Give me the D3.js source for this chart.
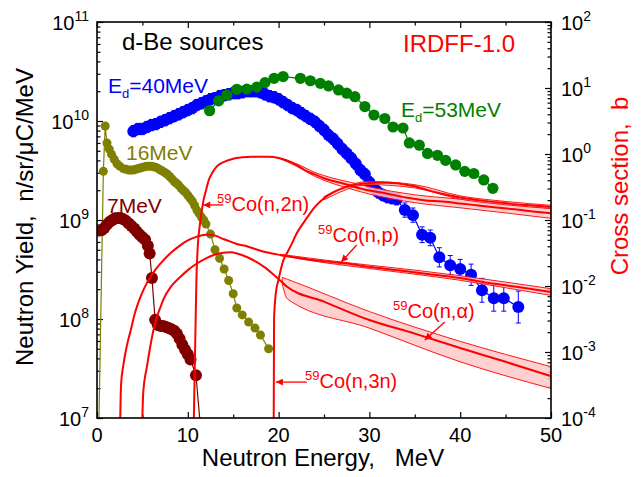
<!DOCTYPE html>
<html><head><meta charset="utf-8">
<script src="https://cdn.jsdelivr.net/npm/d3@7"></script>
<style>body{margin:0;background:#fff} svg{display:block} text{font-family:"Liberation Sans",Arial,Helvetica,sans-serif}</style>
</head><body><svg id="c" width="642" height="477"></svg>
<script>
// ---------- DATA ----------
// E_d = 40 MeV (blue)
const blueE = [4.0,4.5,5.0,5.5,6.0,6.5,7.0,7.5,8.0,8.5,9.0,9.5,10.0,10.5,11.0,11.5,12.0,12.5,13.0,13.5,14.0,14.5,15.0,15.5,16.0,16.5,17.0,17.5,18.0,18.5,19.0,19.5,20.0,20.5,21.0,21.5,22.0,22.5,23.0,23.5,24.0,24.5,25.0,25.5,26.0,26.5,27.0,27.5,28.0,28.5,29.0,29.5,30.0,30.5,31.0,31.5,32.0,32.5,33.0,33.9,34.8,35.8,36.7,37.7,38.9,40.0,41.2,42.4,43.7,44.8,46.4];
const blueY = [7.9e9,8.3e9,8.3e9,8.7e9,9.1e9,9.3e9,9.8e9,1.02e10,1.07e10,1.12e10,
  1.17e10,1.23e10,1.29e10,1.35e10,1.45e10,1.51e10,1.58e10,1.66e10,1.70e10,1.78e10,
  1.82e10,1.86e10,1.91e10,1.91e10,1.95e10,2.0e10,2.0e10,2.0e10,1.95e10,1.86e10,
  1.78e10,1.74e10,1.66e10,1.55e10,1.45e10,1.35e10,1.29e10,1.20e10,1.12e10,1.05e10,
  9.8e9,8.9e9,8.1e9,7.2e9,6.6e9,5.9e9,5.2e9,4.7e9,4.2e9,3.7e9,
  3.2e9,2.9e9,2.4e9,2.1e9,1.9e9,1.78e9,1.70e9,1.66e9,1.62e9,
  1.26e9,1.12e9,7.1e8,6.6e8,4.2e8,3.5e8,3.2e8,2.8e8,1.95e8,1.62e8,1.62e8,1.32e8];
const blueErr = [0.14,0.14,0.14,0.14,0.14,0.14,0.14,0.14,0.14,0.14,
  0.14,0.14,0.14,0.14,0.14,0.14,0.14,0.14,0.14,0.14,
  0.14,0.14,0.14,0.14,0.14,0.14,0.14,0.14,0.14,0.14,
  0.14,0.14,0.14,0.14,0.14,0.14,0.14,0.14,0.14,0.14,
  0.14,0.14,0.14,0.14,0.14,0.14,0.14,0.14,0.14,0.14,
  0.14,0.14,0.14,0.14,0.14,0.14,0.14,0.14,0.14,
  0.18,0.18,0.2,0.2,0.25,0.25,0.25,0.28,0.32,0.35,0.35,0.45];
// E_d = 53 MeV (green)
const greenE = [12.4,13.4,14.3,15.4,16.5,17.6,18.5,19.5,20.5,22.4,23.5,24.6,25.5,26.6,27.5,28.4,29.5,30.5,31.7,32.6,33.7,34.4,35.5,36.4,37.5,38.4,39.5,40.5,41.5,42.6,43.6];
const greenY = [1.27e10,1.60e10,1.83e10,2.09e10,2.1e10,2.2e10,2.44e10,2.70e10,2.81e10,2.70e10,2.55e10,2.40e10,2.26e10,2.06e10,1.91e10,1.76e10,1.40e10,1.15e10,1.06e10,8.7e9,8.5e9,6.0e9,5.7e9,4.7e9,4.5e9,4.0e9,3.6e9,3.1e9,2.95e9,2.54e9,2.09e9];
// E_d = 16 MeV (olive)
const oliveE = [0.2,0.7,0.9,1.1,1.35,1.6,1.9,2.2,2.5,2.9,3.2,3.5,3.75,4.0,4.25,4.5,4.75,5.0,5.25,5.5,5.75,6.0,6.25,6.5,6.75,7.0,7.25,7.5,7.75,8.0,8.25,8.5,8.75,9.0,9.25,9.5,9.75,10.0,10.25,10.5,10.75,11.0,11.25,11.5,11.75,12.0,12.5,13.0,13.5,14.0,14.5,15.0,15.4,16.0,16.7,17.4,18.0,18.9];
const oliveY = [8e6,3.1e9,8.9e9,6.0e9,5.2e9,4.6e9,4.1e9,3.7e9,3.5e9,3.3e9,3.25e9,3.2e9,3.2e9,3.2e9,3.25e9,3.3e9,3.35e9,3.4e9,3.45e9,3.5e9,3.5e9,3.5e9,3.45e9,3.4e9,3.3e9,3.2e9,3.1e9,3.0e9,2.9e9,2.75e9,2.6e9,2.45e9,2.35e9,2.24e9,2.1e9,2.0e9,1.9e9,1.78e9,1.66e9,1.55e9,1.4e9,1.26e9,1.16e9,1.07e9,1.0e9,9.1e8,7.2e8,5.0e8,4.1e8,3.2e8,2.45e8,1.8e8,1.29e8,1.1e8,9.3e7,8.1e7,6.9e7,5.0e7];
// E_d = 7 MeV (dark red)
const darkE = [0.5,0.8,1.1,1.4,1.7,2.0,2.3,2.6,2.9,3.2,3.5,3.8,4.1,4.4,4.7,5.0,5.3,5.6,5.8,6.05,6.4,6.7,7.0,7.3,7.6,7.9,8.2,8.5,8.8,9.1,9.4,9.7,10.0,10.3,10.9,11.4];
const darkY = [7.9e8,8.3e8,9.0e8,9.6e8,1.0e9,1.04e9,1.05e9,1.05e9,1.02e9,9.8e8,9.2e8,8.7e8,8.2e8,7.6e8,7.1e8,6.7e8,6.3e8,5.5e8,4.6e8,2.6e8,9.8e7,8.7e7,8.5e7,8.5e7,8.3e7,8.1e7,7.9e7,7.6e7,7.1e7,6.3e7,5.5e7,4.9e7,4.4e7,3.9e7,2.7e7,8e6];

// IRDFF-1.0 cross sections (barn)
const n2nE = [10.6,10.8,10.95,11.1,11.35,11.7,12.0,12.3,12.7,13.2,14.0,15.0,16.0,17.0,18.0,19.0,20.0,21.0,22.0,23.0,24.0,25.0,26.0,27.0,28.0,29.0,30.0,32.0,34.0,36.0,38.0,40.0,42.0,44.0,46.0,48.0,50.0];
const n2nS = [3e-5,1e-3,0.0126,0.040,0.089,0.19,0.28,0.40,0.52,0.65,0.76,0.85,0.89,0.91,0.91,0.91,0.87,0.79,0.68,0.56,0.49,0.43,0.39,0.36,0.33,0.30,0.28,0.25,0.22,0.20,0.19,0.178,0.166,0.155,0.145,0.135,0.126];
const n2nBandE = [20,22,24,26,28,30,35,40,45,50];
const n2nBandHi = [0.87,0.71,0.525,0.43,0.37,0.318,0.241,0.207,0.176,0.150];
const n2nBandLo = [0.87,0.65,0.457,0.356,0.294,0.247,0.183,0.153,0.128,0.106];

const npE = [2.5,2.65,2.9,3.3,3.7,4.2,4.8,5.4,5.9,6.5,7.3,8.2,9.2,10.0,11.0,12.0,12.5,13.0,14.0,14.7,15.5,16.5,17.5,18.4,19.3,20.2,22,24,26,28,30,33,36,40,43,46,50];
const npS = [3e-5,3.2e-4,6.3e-4,1.26e-3,2.1e-3,4.0e-3,6.9e-3,0.0105,0.0138,0.0182,0.0245,0.0324,0.0417,0.049,0.056,0.060,0.060,0.058,0.051,0.047,0.043,0.040,0.036,0.033,0.031,0.0295,0.0269,0.0245,0.0229,0.0214,0.0195,0.0174,0.0155,0.0132,0.0112,0.0098,0.0081];
const npBandE = [20.2,25,30,35,40,45,50];
const npBandHi = [0.0302,0.0248,0.0207,0.0174,0.0143,0.01146,0.0091];
const npBandLo = [0.0288,0.0226,0.0184,0.0151,0.0122,0.0094,0.0072];

const naE = [4.9,5.1,5.5,6.2,7.3,8.2,9.2,10.0,11.0,12.0,12.85,13.7,14.7,15.5,16.5,17.5,18.4,19.3,20.3,20.9,25,30,35,40,45,50];
const naS = [3e-5,2.5e-4,6.0e-4,2.1e-3,6.2e-3,0.010,0.0138,0.0174,0.0219,0.0263,0.0295,0.0316,0.0324,0.0309,0.0275,0.0234,0.0195,0.0155,0.0117,0.0098,5.8e-3,3.05e-3,1.9e-3,1.15e-3,7.1e-4,4.3e-4];
const naBandE = [20.4,21,30,40,50];
const naBandHi = [0.0135,0.0126,4.1e-3,1.45e-3,6.0e-4];
const naBandLo = [0.0107,6.3e-3,2.3e-3,7.1e-4,2.8e-4];

const n3nE = [19.45,19.5,19.7,20.0,20.5,21.0,21.5,22.0,23.0,24.0,25.0,26.0,27.0,28.0,29.0,30.0,31.0,32.0,33.0,34.0,35.0,36.0,37.0,38.0,39.0,40.0,42.0,44.0,46.0,48.0,50.0];
const n3nS = [3e-5,3.2e-3,7.9e-3,0.0126,0.024,0.033,0.045,0.063,0.102,0.158,0.214,0.263,0.302,0.331,0.351,0.363,0.367,0.367,0.359,0.343,0.324,0.295,0.269,0.251,0.234,0.219,0.200,0.186,0.174,0.166,0.158];
const n3nBandE = [25,30,35,40,45,50];
const n3nBandHi = [0.227,0.384,0.343,0.232,0.191,0.167];
const n3nBandLo = [0.202,0.343,0.306,0.207,0.170,0.149];

// axes ticks
const xTicks = [0,10,20,30,40,50];
const xMinor = [5,15,25,35,45];
const yLExp = [7,8,9,10,11];
const yRExp = [-4,-3,-2,-1,0,1,2];

// ---------- CHART ----------
const M = {l:97, r:551, t:22, b:418};
const svg = d3.select('#c');
const x = d3.scaleLinear().domain([0,50]).range([M.l,M.r]);
const yL = d3.scaleLog().domain([1e7,1e11]).range([M.b,M.t]);
const yR = d3.scaleLog().domain([1e-4,1e2]).range([M.b,M.t]);

const defs = svg.append('defs');
defs.append('clipPath').attr('id','clip').append('rect')
  .attr('x',M.l).attr('y',M.t).attr('width',M.r-M.l).attr('height',M.b-M.t);
defs.append('marker').attr('id','ah').attr('viewBox','0 0 10 10').attr('refX',10).attr('refY',5)
  .attr('markerWidth',9).attr('markerHeight',7).attr('markerUnits','userSpaceOnUse').attr('orient','auto')
  .append('path').attr('d','M0,0L10,5L0,10z').attr('fill','#ff0000');

// ticks
function minorVals(scale){ const v=[]; const [a,b]=scale.domain(); for(let e=Math.round(Math.log10(a)); e<Math.round(Math.log10(b)); e++) for(let k=2;k<10;k++) v.push(k*Math.pow(10,e)); return v; }
const axG = svg.append('g').attr('class','ax');
axG.append('g').attr('transform',`translate(0,${M.b})`).call(d3.axisBottom(x).tickValues(xTicks).tickSize(-6).tickSizeOuter(0).tickFormat(''));
axG.append('g').attr('transform',`translate(0,${M.b})`).call(d3.axisBottom(x).tickValues(xMinor).tickSize(-3.5).tickSizeOuter(0).tickFormat(''));
axG.append('g').attr('transform',`translate(0,${M.t})`).call(d3.axisTop(x).tickValues(xTicks).tickSize(-6).tickSizeOuter(0).tickFormat(''));
axG.append('g').attr('transform',`translate(0,${M.t})`).call(d3.axisTop(x).tickValues(xMinor).tickSize(-3.5).tickSizeOuter(0).tickFormat(''));
axG.append('g').attr('transform',`translate(${M.l},0)`).call(d3.axisLeft(yL).tickValues(yLExp.map(e=>Math.pow(10,e))).tickSize(-6).tickSizeOuter(0).tickFormat(''));
axG.append('g').attr('transform',`translate(${M.l},0)`).call(d3.axisLeft(yL).tickValues(minorVals(yL)).tickSize(-3.5).tickSizeOuter(0).tickFormat(''));
axG.append('g').attr('transform',`translate(${M.r},0)`).call(d3.axisRight(yR).tickValues(yRExp.map(e=>Math.pow(10,e))).tickSize(-6).tickSizeOuter(0).tickFormat(''));
axG.append('g').attr('transform',`translate(${M.r},0)`).call(d3.axisRight(yR).tickValues(minorVals(yR)).tickSize(-3.5).tickSizeOuter(0).tickFormat(''));
axG.selectAll('.domain').remove();
axG.selectAll('line').attr('stroke','#000').attr('stroke-width',1.2);

// tick labels
xTicks.forEach(v=>{
  svg.append('text').attr('x',x(v)).attr('y',M.b+24).attr('text-anchor','middle').attr('font-size',20).text(v);
});
yLExp.forEach(e=>{
  const t=svg.append('text').attr('x',M.l-8).attr('y',yL(Math.pow(10,e))+8).attr('text-anchor','end').attr('font-size',20);
  t.append('tspan').text('10');
  t.append('tspan').attr('dy',-9).attr('font-size',14).text(e);
});
yRExp.forEach(e=>{
  const t=svg.append('text').attr('x',M.r+10).attr('y',yR(Math.pow(10,e))+8).attr('text-anchor','start').attr('font-size',20);
  t.append('tspan').text('10');
  t.append('tspan').attr('dy',-9).attr('font-size',14).text(e<0?'-'+(-e):e);
});

// axis titles
svg.append('text').attr('x',323).attr('y',466).attr('text-anchor','middle').attr('font-size',24).attr('xml:space','preserve').text('Neutron Energy,   MeV');
svg.append('text').attr('transform','translate(33,217) rotate(-90)').attr('text-anchor','middle').attr('font-size',24).attr('xml:space','preserve').text('Neutron Yield,  n/sr/\u03BCC/MeV');
svg.append('text').attr('transform','translate(628,186) rotate(-90)').attr('text-anchor','middle').attr('font-size',24).attr('fill','#ff0000').attr('xml:space','preserve').text('Cross section,  b');

// plot contents
const plot = svg.append('g').attr('clip-path','url(#clip)');
const zip = (a,b)=>a.map((v,i)=>[v,b[i]]);

function series(E,Y,color,r,err){
  const pts = zip(E,Y);
  const g = plot.append('g');
  g.append('path').datum(pts).attr('d',d3.line().x(d=>x(d[0])).y(d=>yL(d[1])))
    .attr('fill','none').attr('stroke',color).attr('stroke-width',1.2);
  if(err){
    pts.forEach((d,i)=>{
      const hi=yL(d[1]*(1+err[i])), lo=yL(d[1]/(1+err[i])), cx=x(d[0]);
      g.append('line').attr('x1',cx).attr('x2',cx).attr('y1',hi).attr('y2',lo).attr('stroke',color).attr('stroke-width',1);
      g.append('line').attr('x1',cx-2.5).attr('x2',cx+2.5).attr('y1',hi).attr('y2',hi).attr('stroke',color).attr('stroke-width',1);
      g.append('line').attr('x1',cx-2.5).attr('x2',cx+2.5).attr('y1',lo).attr('y2',lo).attr('stroke',color).attr('stroke-width',1);
    });
  }
  g.selectAll('circle').data(pts).enter().append('circle')
    .attr('cx',d=>x(d[0])).attr('cy',d=>yL(d[1])).attr('r',r).attr('fill',color);
}
series(blueE,blueY,'#0000ff',6,blueErr);
series(greenE,greenY,'#008000',5.6);
series(oliveE,oliveY,'#808000',4.5);
series(darkE,darkY,'#800000',6);

// cross sections
function band(E,lo,hi){
  const pts=E.map((e,i)=>[e,lo[i],hi[i]]);
  plot.append('path').datum(pts)
    .attr('d',d3.area().x(d=>x(d[0])).y0(d=>yR(d[1])).y1(d=>yR(d[2])).curve(d3.curveMonotoneX))
    .attr('fill','#ffc8c8').attr('fill-opacity',0.85).attr('stroke','#ff0000').attr('stroke-width',0.9);
}
function xs(E,S,w){
  plot.append('path').datum(zip(E,S))
    .attr('d',d3.line().x(d=>x(d[0])).y(d=>yR(d[1])).curve(d3.curveMonotoneX))
    .attr('fill','none').attr('stroke','#ff0000').attr('stroke-width',w||2);
}
band(n2nBandE,n2nBandLo,n2nBandHi);
band(n3nBandE,n3nBandLo,n3nBandHi);
band(npBandE,npBandLo,npBandHi);
band(naBandE,naBandLo,naBandHi);
xs(n2nE,n2nS);
xs(n3nE,n3nS);
xs(npE,npS);
xs(naE,naS);

// frame
svg.append('rect').attr('x',M.l).attr('y',M.t).attr('width',M.r-M.l).attr('height',M.b-M.t)
  .attr('fill','none').attr('stroke','#000').attr('stroke-width',1.6);

// labels
function lab(px,py,txt,color,size,sub,subTxt,rest){
  const t=svg.append('text').attr('x',px).attr('y',py).attr('font-size',size).attr('fill',color);
  t.append('tspan').text(txt);
  if(sub){ t.append('tspan').attr('dy',5).attr('font-size',13).text(subTxt); t.append('tspan').attr('dy',-5).text(rest); }
  return t;
}
lab(122,50,'d-Be sources','#000',24);
lab(403,52,'IRDFF-1.0','#ff0000',24);
lab(108,93,'E','#0000ff',21,true,'d','=40MeV');
lab(401,117,'E','#008000',21,true,'d','=53MeV');
lab(126,160,'16MeV','#808000',21);
lab(107,213,'7MeV','#800000',21);

function reac(px,py,name){
  const t=svg.append('text').attr('x',px).attr('y',py).attr('font-size',20).attr('fill','#ff0000');
  t.append('tspan').attr('dy',-8).attr('font-size',13).text('59');
  t.append('tspan').attr('dy',8).text(name);
}
reac(217,211,'Co(n,2n)');
reac(318,242,'Co(n,p)');
reac(393,318,'Co(n,\u03B1)');
reac(305,388,'Co(n,3n)');

// arrows (data coordinates: energy, cross section)
const arrows = [
  [[13.9,0.169],[11.7,0.169]],
  [[28.6,0.0418],[26.9,0.0231]],
  [[38.3,2.85e-3],[36.1,1.52e-3]],
  [[23.1,3.5e-4],[19.7,3.5e-4]]
];
arrows.forEach(a=>{
  svg.append('line').attr('x1',x(a[0][0])).attr('y1',yR(a[0][1])).attr('x2',x(a[1][0])).attr('y2',yR(a[1][1]))
    .attr('stroke','#ff0000').attr('stroke-width',1.3).attr('marker-end','url(#ah)');
});
</script></body></html>
